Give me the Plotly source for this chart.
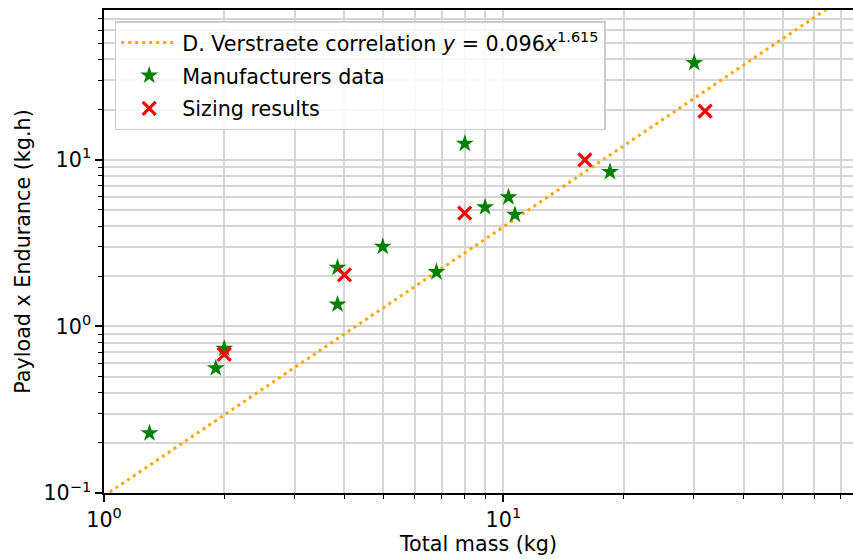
import plotly.graph_objects as go

# ---- data ----
manuf_mass = [1.30, 1.905, 2.0, 3.844, 3.844, 4.99, 6.80, 8.01, 9.00, 10.3, 10.69, 18.49, 30.06]
manuf_pe = [0.229, 0.562, 0.735, 2.25, 1.355, 3.01, 2.12, 12.5, 5.2, 5.97, 4.68, 8.47, 38.2]

sizing_mass = [2, 4, 8, 16, 32]
sizing_pe = [0.679, 2.04, 4.78, 10.0, 19.6]

# correlation y = COEF * x ** EXPO (from the legend label)
COEF = 0.096
EXPO = 1.615
corr_mass = [1.0, 100.0]
corr_pe = [COEF * m ** EXPO for m in corr_mass]

X_RANGE = [0, 1.8755]
Y_RANGE = [-1, 1.899]

x_tickvals = [1, 10]
x_ticktext = ["10<sup>0</sup>", "10<sup>1</sup>"]
y_tickvals = [0.1, 1, 10]
y_ticktext = ["10<sup>\u22121</sup>", "10<sup>0</sup>", "10<sup>1</sup>"]

x_minor = [k * 10 ** d for d in range(0, 2) for k in range(2, 10)
           if k * 10 ** d < 10 ** X_RANGE[1]]
y_minor = [k * 10 ** d for d in range(-1, 2) for k in range(2, 10)
           if k * 10 ** d < 10 ** Y_RANGE[1]]

FONT = "DejaVu Sans"
FS = 20.7
GRID = "#d6d6d6"
GW = 1.5

fig = go.Figure()
fig.add_trace(go.Scatter(
    x=corr_mass, y=corr_pe, mode="lines",
    name="D. Verstraete correlation <i>y</i> = 0.096<i>x</i><sup>1.615</sup>",
    line=dict(color="#ffa500", width=3, dash="3px,4px"),
    legendgroup="a",
))
fig.add_trace(go.Scatter(
    x=manuf_mass, y=manuf_pe, mode="markers", name="Manufacturers data",
    marker=dict(symbol="star", size=13.5, color="#008000", line=dict(width=0)),
    legendgroup="b",
))
fig.add_trace(go.Scatter(
    x=sizing_mass, y=sizing_pe, mode="markers", name="Sizing results",
    marker=dict(symbol="x-thin", size=13, color="#ff0000",
                line=dict(width=3.2, color="#ff0000")),
    legendgroup="c",
))

axis_common = dict(
    type="log", showline=True, linecolor="black", linewidth=1.5,
    ticks="outside", ticklen=7, tickwidth=1.5, tickcolor="black",
    showgrid=True, gridcolor=GRID, gridwidth=GW, zeroline=False,
    tickfont=dict(family=FONT, size=FS, color="black"),
)

fig.update_xaxes(
    **axis_common,
    range=X_RANGE, mirror=True,
    tickvals=x_tickvals, ticktext=x_ticktext,
    minor=dict(tickvals=x_minor, ticks="outside", ticklen=4, tickwidth=1.2,
               tickcolor="black", showgrid=True, gridcolor=GRID, gridwidth=GW),
    title=dict(text="Total mass (kg)", font=dict(family=FONT, size=FS, color="black"),
               standoff=6),
)
fig.update_yaxes(
    **axis_common,
    range=Y_RANGE, mirror=False,
    tickvals=y_tickvals, ticktext=y_ticktext,
    minor=dict(tickvals=y_minor, ticks="outside", ticklen=4, tickwidth=1.2,
               tickcolor="black", showgrid=True, gridcolor=GRID, gridwidth=GW),
    title=dict(text="Payload x Endurance (kg.h)", font=dict(family=FONT, size=FS, color="black"),
               standoff=7),
)

fig.update_layout(
    width=853, height=559,
    margin=dict(l=104, r=0, t=10, b=66, pad=0),
    paper_bgcolor="white", plot_bgcolor="white",
    font=dict(family=FONT, size=FS, color="black"),
    showlegend=True,
    legend=dict(
        x=0.0143, y=0.977, xanchor="left", yanchor="top",
        bgcolor="rgba(255,255,255,0.85)", bordercolor="#cccccc", borderwidth=1.5,
        font=dict(family=FONT, size=FS, color="black"),
        itemwidth=56, tracegroupgap=3, traceorder="grouped",
    ),
)

fig.write_html(
    "out.html",
    config={"displayModeBar": False},
    post_script=("document.documentElement.style.overflow='hidden';"
                 "document.body.style.margin='0';document.body.style.overflow='hidden';"),
)
